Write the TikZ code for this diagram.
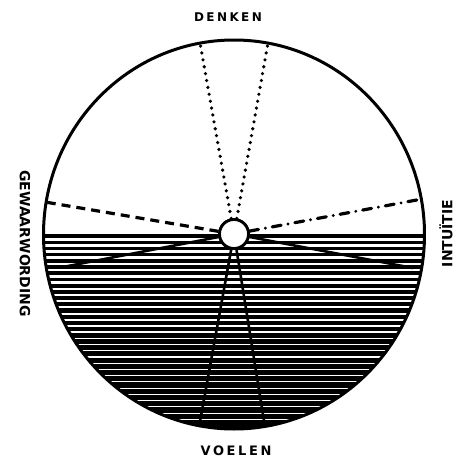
\documentclass[tikz,border=0pt]{standalone}
\usepackage{fontspec}
\usetikzlibrary{shapes.geometric}
\newfontfamily\labA[LetterSpace=20]{DejaVu Sans Bold}
\newfontfamily\labB[LetterSpace=0]{DejaVu Sans Bold}
\tikzset{
  rim/.style={line width=3pt},
  hubstyle/.style={circle, draw, fill=white, line width=2.8pt, minimum size=29pt, inner sep=0pt},
  dotline/.style={line width=3.6pt, line cap=round, dash pattern=on 0pt off 7pt},
  dashline/.style={line width=3.2pt, dash pattern=on 9pt off 6pt},
  dashdotline/.style={line width=3.2pt, line cap=round, dash pattern=on 9pt off 7pt on 0pt off 7pt},
  solidline/.style={line width=2.6pt},
  toplab/.style={inner sep=0pt, font=\labA\fontsize{12}{12}\selectfont},
  sidelab/.style={inner sep=0pt, font=\labB\fontsize{14}{14}\selectfont}
}
\begin{document}
\begin{tikzpicture}[x=1pt,y=-1pt]
\useasboundingbox (0,0) rectangle (456,459);
\fill[white] (0,0) rectangle (456,459);
% hatching of the lower half
\begin{scope}
  \clip (234,234.5) ellipse [x radius=190.5pt, y radius=194.5pt];
  \fill[black] (30,234) rectangle (440,440);
  \foreach \k in {0,...,29} {
    \pgfmathsetmacro\yy{239.2+6.2*\k}
    \pgfmathsetmacro\ww{max(0.3,3.1-(\yy-238)*0.0165)}
    \draw[white, line width=\ww pt] (30,\yy) -- (440,\yy);
  }
\end{scope}
% outer circle
\node[draw, rim, ellipse, minimum width=381pt, minimum height=389pt, inner sep=0pt] (disk) at (234,234.5) {};
% end points
\coordinate (d1) at (200,43);
\coordinate (d2) at (268,43);
\coordinate (g1) at (45,202);
\coordinate (g2) at (63,267);
\coordinate (i1) at (422,199);
\coordinate (i2) at (413,268);
\coordinate (v1) at (199,427);
\coordinate (v2) at (265,427);
% hub
\node[hubstyle] (hub) at (234,234) {};
\draw[dotline] (hub) -- (d1);
\draw[dotline] (hub) -- (d2);
\draw[dashline] (hub) -- (g1);
\draw[dashdotline] (hub) -- (i1);
\draw[solidline] (hub) -- (g2);
\draw[solidline] (hub) -- (i2);
\draw[solidline] (hub) -- (v1);
\draw[solidline] (hub) -- (v2);
\node[hubstyle] at (234,234) {};
% labels
\node[toplab] (denken) at (228,17) {DENKEN};
\node[toplab, font=\labA\fontsize{13}{13}\selectfont] (voelen) at (236,451) {VOELEN};
\node[sidelab, rotate=-90] (gew) at (25,243.5) {GEWAARWORDING};
\node[sidelab, rotate=90] (intu) at (446,233.5) {INTUÏTIE};
\end{tikzpicture}
\end{document}
